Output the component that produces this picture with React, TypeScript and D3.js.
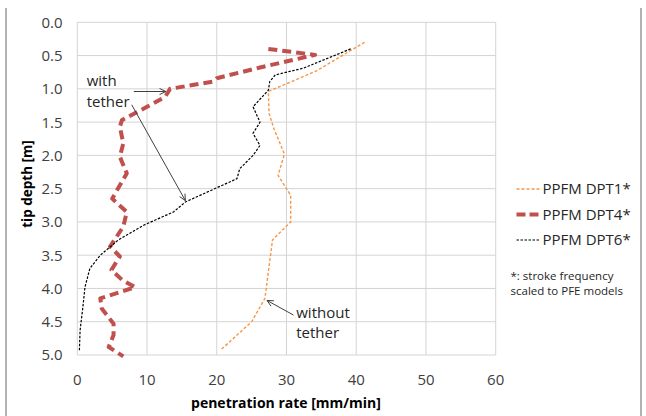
import * as d3 from "d3";

// depth [m] vs. penetration rate [mm/min]
const dpt1Depth = [0.3, 0.73, 1.04, 1.37, 1.6, 1.98, 2.3, 2.6, 3.0, 3.27, 4.15, 4.5, 4.92];
const dpt1Rate = [41.2, 34.3, 27.4, 27.5, 28.2, 29.7, 28.8, 30.6, 30.6, 28.0, 26.9, 25.0, 20.6];

const dpt4Depth = [0.4, 0.49, 0.68, 0.84, 0.89, 1.0, 1.12, 1.27, 1.47, 1.57, 1.82, 2.02, 2.27, 2.65, 2.85, 3.07, 3.37, 3.52, 3.72, 3.87, 3.98, 4.15, 4.3, 4.53, 4.7, 4.88, 5.02];
const dpt4Rate = [27.4, 34.1, 26.2, 20.0, 19.5, 13.3, 12.6, 10.0, 6.4, 6.1, 6.6, 6.1, 7.1, 5.0, 7.1, 6.6, 4.7, 6.1, 4.9, 6.4, 8.3, 3.3, 3.5, 5.2, 5.2, 4.5, 6.6];

const dpt6Depth = [0.4, 0.69, 0.79, 0.89, 1.02, 1.27, 1.5, 1.67, 1.85, 2.0, 2.2, 2.35, 2.7, 2.85, 3.05, 3.27, 3.5, 3.7, 3.98, 4.28, 4.63, 4.93];
const dpt6Rate = [39.2, 32.4, 28.4, 27.6, 27.4, 25.2, 26.2, 25.2, 26.2, 25.2, 23.3, 22.9, 15.5, 13.8, 9.5, 5.9, 3.3, 1.8, 1.1, 0.8, 0.4, 0.3];

const xTicks = [0, 10, 20, 30, 40, 50, 60];
const yTicks = [0, 0.5, 1, 1.5, 2, 2.5, 3, 3.5, 4, 4.5, 5];

const seriesNames = ["PPFM DPT1*", "PPFM DPT4*", "PPFM DPT6*"];

const W = 646;
const H = 416;
const FONT = "'Open Sans', 'Noto Sans', sans-serif";

const x = d3.scaleLinear().domain([0, 60]).range([77.3, 495.7]);
const y = d3.scaleLinear().domain([0, 5]).range([22.3, 355]);

const styles = [
  { color: "#f79646", width: 1.4, dash: "3,2" },
  { color: "#c0504d", width: 4, dash: "9,5" },
  { color: "#000000", width: 1.2, dash: "2.5,1.5" },
];

const zip = (d: number[], r: number[]) => d.map((v, i) => [r[i], v] as [number, number]);
const series = [zip(dpt1Depth, dpt1Rate), zip(dpt4Depth, dpt4Rate), zip(dpt6Depth, dpt6Rate)];

const line = d3
  .line<[number, number]>()
  .x((d) => x(d[0]))
  .y((d) => y(d[1]));

// annotation arrows in data units: [rate0, depth0, rate1, depth1]
const arrows = [
  [8.1, 1.04, 12.7, 1.04],
  [7.8, 1.24, 15.5, 2.68],
  [31.0, 4.4, 27.2, 4.18],
];

function Arrow({ a }: { a: number[] }) {
  const x0 = x(a[0]), y0 = y(a[1]), x1 = x(a[2]), y1 = y(a[3]);
  const ang = Math.atan2(y1 - y0, x1 - x0);
  const L = 7, spread = 0.45;
  const p1 = [x1 - L * Math.cos(ang - spread), y1 - L * Math.sin(ang - spread)];
  const p2 = [x1 - L * Math.cos(ang + spread), y1 - L * Math.sin(ang + spread)];
  return (
    <g stroke="#404040" strokeWidth={1} fill="none">
      <line x1={x0} y1={y0} x2={x1} y2={y1} />
      <path d={`M${p1[0]},${p1[1]}L${x1},${y1}L${p2[0]},${p2[1]}`} />
    </g>
  );
}

export default function App() {
  const legendY = [189, 214.5, 240];
  return (
    <svg
      width={W}
      height={H}
      style={{ position: "absolute", left: 0, top: 0, background: "#fff" }}
      fontFamily={FONT}
    >
      <rect width={W} height={H} fill="#fff" />
      {/* outer frame sides */}
      <line x1={6} y1={8} x2={6} y2={H} stroke="#999" strokeWidth={1.5} />
      <line x1={641} y1={8} x2={641} y2={H} stroke="#999" strokeWidth={1.5} />

      {/* grid */}
      <g stroke="#d4d4d4" strokeWidth={1}>
        {xTicks.map((t) => (
          <line key={"gx" + t} x1={x(t)} x2={x(t)} y1={y(0)} y2={y(5)} />
        ))}
        {yTicks.map((t) => (
          <line key={"gy" + t} x1={x(0)} x2={x(60)} y1={y(t)} y2={y(t)} />
        ))}
      </g>

      {/* tick labels */}
      <g fontSize={15} fill="#404040">
        {yTicks.map((t) => (
          <text key={"ty" + t} x={62.5} y={y(t)} dy="0.36em" textAnchor="end">
            {d3.format(".1f")(t)}
          </text>
        ))}
        {xTicks.map((t) => (
          <text key={"tx" + t} x={x(t)} y={379.5} dy="0.36em" textAnchor="middle">
            {t}
          </text>
        ))}
      </g>

      {/* axis titles */}
      <text x={286} y={403} dy="0.36em" textAnchor="middle" fontWeight="bold" fontSize={14} fill="#000">
        penetration rate [mm/min]
      </text>
      <text
        transform={`translate(27,184) rotate(-90)`}
        dy="0.36em"
        textAnchor="middle"
        fontWeight="bold"
        fontSize={13.5}
        fill="#000"
      >
        tip depth [m]
      </text>

      {/* series */}
      {series.map((s, i) => (
        <path
          key={"s" + i}
          d={line(s) ?? ""}
          fill="none"
          stroke={styles[i].color}
          strokeWidth={styles[i].width}
          strokeDasharray={styles[i].dash}
          strokeLinejoin="round"
        />
      ))}

      {/* annotations */}
      {arrows.map((a, i) => (
        <Arrow key={"a" + i} a={a} />
      ))}
      <g fontSize={15} fill="#262626">
        <text x={x(1.35)} y={y(0.95)}>with</text>
        <text x={x(1.35)} y={y(1.27)}>tether</text>
        <text x={x(31.4)} y={y(4.44)}>without</text>
        <text x={x(31.4)} y={y(4.75)}>tether</text>
      </g>

      {/* legend */}
      {seriesNames.map((n, i) => (
        <g key={"l" + i}>
          <line
            x1={516.5}
            x2={540}
            y1={legendY[i]}
            y2={legendY[i]}
            stroke={styles[i].color}
            strokeWidth={styles[i].width}
            strokeDasharray={i === 1 ? "9,4" : styles[i].dash}
          />
          <text x={542.5} y={legendY[i]} dy="0.36em" fontSize={15} fill="#262626">
            {n}
          </text>
        </g>
      ))}
      <g fontSize={11.5} fill="#262626">
        <text x={510.5} y={279.5}>*: stroke frequency</text>
        <text x={510.5} y={295}>scaled to PFE models</text>
      </g>
    </svg>
  );
}
